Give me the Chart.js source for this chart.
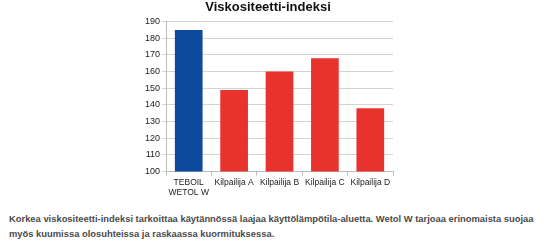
<!DOCTYPE html>
<html>
<head>
<meta charset="utf-8">
<script src="https://cdn.jsdelivr.net/npm/chart.js@4/dist/chart.umd.min.js"></script>
<style>
  body { margin: 0; background: #fff; font-family: "Liberation Sans", Arial, sans-serif; }
  #wrap { position: relative; width: 555px; height: 200px; }
  p.note { margin: 11px 0 0 9px; font-size: 9.4px; font-weight: bold; line-height: 15px; color: #4a4a4a; width: 540px; }
</style>
</head>
<body>
<div id="wrap"><canvas id="chart"></canvas></div>
<p class="note">Korkea viskositeetti-indeksi tarkoittaa käytännössä laajaa käyttölämpötila-aluetta. Wetol W tarjoaa erinomaista suojaa myös kuumissa olosuhteissa ja raskaassa kuormituksessa.</p>
<script>
const categories = [['TEBOIL', 'WETOL W'], 'Kilpailija A', 'Kilpailija B', 'Kilpailija C', 'Kilpailija D'];
const values = [185, 149, 160, 168, 138];
const barColors = ['#0b4a9c', '#e8332d', '#e8332d', '#e8332d', '#e8332d'];
const yMin = 100, yMax = 190, yStep = 10;

new Chart(document.getElementById('chart'), {
    type: 'bar',
    data: {
        labels: categories,
        datasets: [{
            data: values,
            backgroundColor: barColors,
            borderColor: barColors,
            borderWidth: 0,
            barPercentage: 0.61,
            categoryPercentage: 1
        }]
    },
    options: {
        responsive: true,
        maintainAspectRatio: false,
        animation: false,
        layout: { padding: { left: 143, right: 162, top: 0, bottom: 0 } },
        plugins: {
            legend: { display: false },
            tooltip: { enabled: false },
            title: {
                display: true,
                text: 'Viskositeetti-indeksi',
                color: '#111',
                font: { family: 'Liberation Sans', size: 13, weight: 'bold' },
                padding: { top: 0, bottom: 6 }
            }
        },
        scales: {
            x: {
                grid: { offset: true, drawOnChartArea: false, tickLength: 4, color: '#bbb' },
                border: { color: '#bbb' },
                ticks: { autoSkip: false, color: '#222', font: { family: 'Liberation Sans', size: 8.5 }, maxRotation: 0, padding: 2 }
            },
            y: {
                min: yMin,
                max: yMax,
                ticks: { stepSize: yStep, color: '#222', font: { family: 'Liberation Sans', size: 9 }, padding: 2 },
                grid: { color: '#d4d4d4', tickLength: 4 },
                border: { color: '#bbb' }
            }
        }
    }
});
</script>
</body>
</html>
